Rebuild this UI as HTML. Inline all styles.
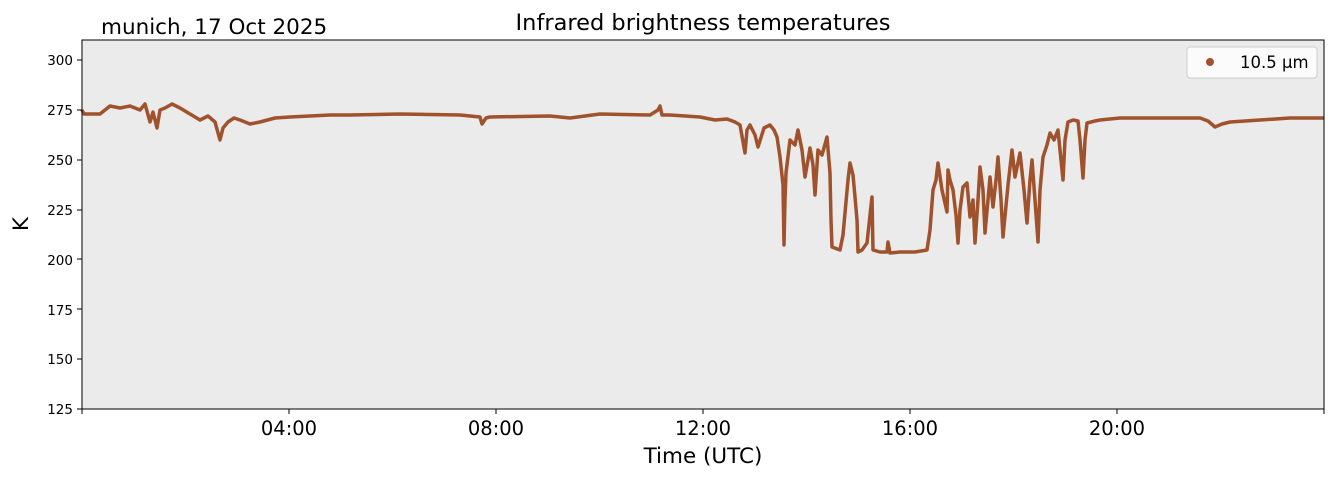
<!DOCTYPE html>
<html><head><style>body{margin:0;background:#fff}svg{display:block;font-family:"DejaVu Sans","Liberation Sans",sans-serif}</style></head>
<body>
<svg width="1335" height="478" viewBox="0 0 1335 478">
<rect x="82" y="40" width="1242" height="369" fill="#ebebeb"/>
<polyline fill="none" stroke="#a0522d" stroke-width="3.5" stroke-linejoin="round" points="82,110 84,114 100,114 110,106 120,108 130,106 140,110 145,104 150,122 153,112 157,128 160,110 165,108 172,104 180,108 190,114 200,120 208,116 215,122 220,140 223,128 228,122 234,118 240,120 250,124 260,122 275,118 290,117 310,116 330,115 350,115 400,114 460,115 480,117 482,124 486,118 490,117 550,116 570,118 600,114 650,115 658,110 660,106 662,115 670,115 700,117 715,120 727,119 735,122 740,125 745,153 747,130 750,125 755,135 758,147 764,128 770,125 774,130 777,137 780,157 783,185 784,245 785,200 786,173 790,140 795,145 798,130 802,150 805,177 808,160 810,148 813,165 815,195 818,150 822,155 827,137 830,173 831,220 832,247 840,250 843,235 845,213 848,180 850,163 853,175 855,197 857,220 858,252 862,250 867,243 870,215 872,197 873,250 880,252 887,252 888,242 890,253 900,252 915,252 927,250 930,230 933,190 936,180 938,163 942,190 947,212 948,170 950,180 953,190 956,215 958,243 960,210 963,187 967,183 970,217 973,200 975,243 978,200 980,167 983,190 985,233 988,200 990,177 993,207 996,180 998,157 1001,200 1003,237 1008,185 1012,150 1015,177 1020,153 1024,190 1027,223 1030,180 1032,160 1035,200 1038,242 1040,190 1043,157 1047,145 1050,133 1054,140 1058,130 1060,150 1063,180 1065,140 1068,122 1073,120 1078,121 1080,140 1083,178 1085,140 1087,123 1095,121 1100,120 1110,119 1120,118 1150,118 1200,118 1208,121 1215,127 1222,124 1230,122 1260,120 1290,118 1324,118"/>
<rect x="82" y="40" width="1242" height="369" fill="none" stroke="#000" stroke-width="1"/>
<g font-size="13.5" text-anchor="end" fill="#000">
<text x="73" y="65">300</text><text x="73" y="115">275</text><text x="73" y="165">250</text><text x="73" y="215">225</text><text x="73" y="265">200</text><text x="73" y="315">175</text><text x="73" y="364">150</text><text x="73" y="414">125</text>
</g>
<g stroke="#000"><line x1="77" x2="82" y1="60" y2="60"/><line x1="77" x2="82" y1="110" y2="110"/><line x1="77" x2="82" y1="160" y2="160"/><line x1="77" x2="82" y1="210" y2="210"/><line x1="77" x2="82" y1="259" y2="259"/><line x1="77" x2="82" y1="309" y2="309"/><line x1="77" x2="82" y1="359" y2="359"/><line x1="77" x2="82" y1="409" y2="409"/>
<line x1="82" x2="82" y1="409" y2="414"/><line x1="289" x2="289" y1="409" y2="414"/><line x1="496" x2="496" y1="409" y2="414"/><line x1="703" x2="703" y1="409" y2="414"/><line x1="910" x2="910" y1="409" y2="414"/><line x1="1117" x2="1117" y1="409" y2="414"/><line x1="1324" x2="1324" y1="409" y2="414"/></g>
<g font-size="19.5" text-anchor="middle"><text x="289" y="435">04:00</text><text x="496" y="435">08:00</text><text x="703" y="435">12:00</text><text x="910" y="435">16:00</text><text x="1117" y="435">20:00</text></g>
<text x="703" y="463" font-size="21.5" text-anchor="middle">Time (UTC)</text>
<text x="28" y="224" font-size="21.5" text-anchor="middle" transform="rotate(-90 28 224)">K</text>
<text x="703" y="30" font-size="22.5" text-anchor="middle">Infrared brightness temperatures</text>
<text x="101" y="34" font-size="21.5">munich, 17 Oct 2025</text>
<rect x="1187" y="47" width="130" height="31" rx="3" fill="#fff" fill-opacity="0.8" stroke="#ccc"/>
<circle cx="1210" cy="62" r="4" fill="#a0522d"/>
<text x="1240" y="68" font-size="16.5">10.5 µm</text>
</svg>
</body></html>
